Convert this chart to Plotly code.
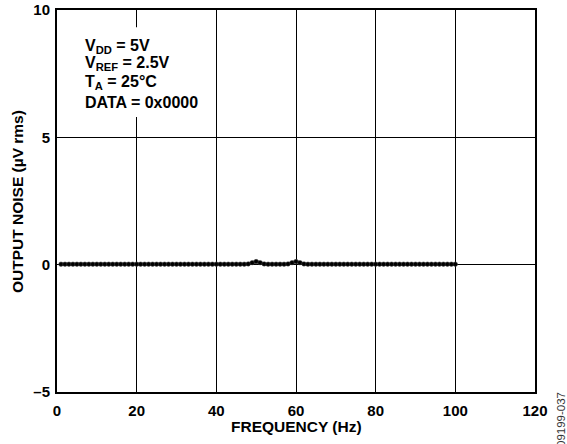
import plotly.graph_objects as go

freq_hz = [1, 2, 3, 4, 5, 6, 7, 8, 9, 10, 11, 12, 13, 14, 15, 16, 17, 18, 19, 20,
           21, 22, 23, 24, 25, 26, 27, 28, 29, 30, 31, 32, 33, 34, 35, 36, 37, 38, 39, 40,
           41, 42, 43, 44, 45, 46, 47, 48, 49, 50, 51, 52, 53, 54, 55, 56, 57, 58, 59, 60,
           61, 62, 63, 64, 65, 66, 67, 68, 69, 70, 71, 72, 73, 74, 75, 76, 77, 78, 79, 80,
           81, 82, 83, 84, 85, 86, 87, 88, 89, 90, 91, 92, 93, 94, 95, 96, 97, 98, 99, 100]
noise_uv = [0.02, 0.02, 0.02, 0.02, 0.02, 0.02, 0.02, 0.02, 0.02, 0.02,
            0.02, 0.02, 0.02, 0.02, 0.02, 0.02, 0.02, 0.02, 0.02, 0.02,
            0.02, 0.02, 0.02, 0.02, 0.02, 0.02, 0.02, 0.02, 0.02, 0.02,
            0.02, 0.02, 0.02, 0.02, 0.02, 0.02, 0.02, 0.02, 0.02, 0.02,
            0.02, 0.02, 0.02, 0.02, 0.02, 0.02, 0.02, 0.03, 0.08, 0.12,
            0.08, 0.03, 0.02, 0.02, 0.02, 0.02, 0.02, 0.03, 0.08, 0.12,
            0.08, 0.03, 0.02, 0.02, 0.02, 0.02, 0.02, 0.02, 0.02, 0.02,
            0.02, 0.02, 0.02, 0.02, 0.02, 0.02, 0.02, 0.02, 0.02, 0.02,
            0.02, 0.02, 0.02, 0.02, 0.02, 0.02, 0.02, 0.02, 0.02, 0.02,
            0.02, 0.02, 0.02, 0.02, 0.02, 0.02, 0.02, 0.02, 0.02, 0.02]

x_ticks = [0, 20, 40, 60, 80, 100, 120]
y_ticks = [-5, 0, 5, 10]
y_tick_labels = ["\u20135", "0", "5", "10"]

conditions = ["V<sub>DD</sub> = 5V", "V<sub>REF</sub> = 2.5V", "T<sub>A</sub> = 25°C", "DATA = 0x0000"]
condition_y = [0.905, 0.859, 0.81, 0.758]

font_family = "Liberation Sans, Arial, sans-serif"

fig = go.Figure()
fig.add_trace(go.Scatter(
    x=freq_hz, y=noise_uv, mode="lines+markers",
    line=dict(color="black", width=3),
    marker=dict(color="black", size=4.5, symbol="circle", line=dict(color="#444444", width=0.5)),
    showlegend=False, hoverinfo="skip",
))

axis_common = dict(
    showgrid=True, gridcolor="black", gridwidth=1.2,
    showline=True, linecolor="black", linewidth=2, mirror=True,
    ticks="", zeroline=False, automargin=False,
    tickfont=dict(family=font_family, size=15, color="black", weight="bold"),
)

fig.update_layout(
    width=567, height=444,
    margin=dict(l=57, r=32, t=10, b=52),
    paper_bgcolor="white", plot_bgcolor="white",
    font=dict(family=font_family, color="black", size=12),
    xaxis=dict(range=[0, 120], tickvals=x_ticks, ticktext=[str(v) for v in x_ticks],
               ticklabelstandoff=4, **axis_common),
    yaxis=dict(range=[-5, 10], tickvals=y_ticks, ticktext=y_tick_labels,
               ticklabelstandoff=2, **axis_common),
)

# white box behind the conditions text (covers the gridline there)
fig.add_shape(type="rect", xref="paper", yref="paper", x0=0.038, x1=0.31, y0=0.72, y1=0.955,
              fillcolor="white", line=dict(width=0), layer="above")

for txt, yy in zip(conditions, condition_y):
    fig.add_annotation(
        xref="paper", yref="paper", x=0.0544, y=yy, xanchor="left", yanchor="middle",
        text="<b>" + txt + "</b>", showarrow=False, align="left",
        font=dict(family=font_family, size=16, color="black"),
    )

fig.add_annotation(
    xref="paper", yref="paper", x=0.5, y=-0.0916, xanchor="center", yanchor="middle",
    text="<b>FREQUENCY (Hz)</b>", showarrow=False,
    font=dict(family=font_family, size=15.5, color="black"),
)
fig.add_annotation(
    xref="paper", yref="paper", x=-0.0837, y=0.5, xanchor="center", yanchor="middle",
    text="<b>OUTPUT NOISE (µV rms)</b>", textangle=-90, showarrow=False,
    font=dict(family=font_family, size=15.5, color="black"),
)

fig.add_annotation(
    xref="paper", yref="paper", x=1.0533, y=-0.072, xanchor="center", yanchor="middle",
    text="09199-037", textangle=-90, showarrow=False,
    font=dict(family=font_family, size=11.5, color="#333333"),
)

fig.write_html("out.html", config={"displayModeBar": False},
               post_script="document.body.style.margin='0';")
